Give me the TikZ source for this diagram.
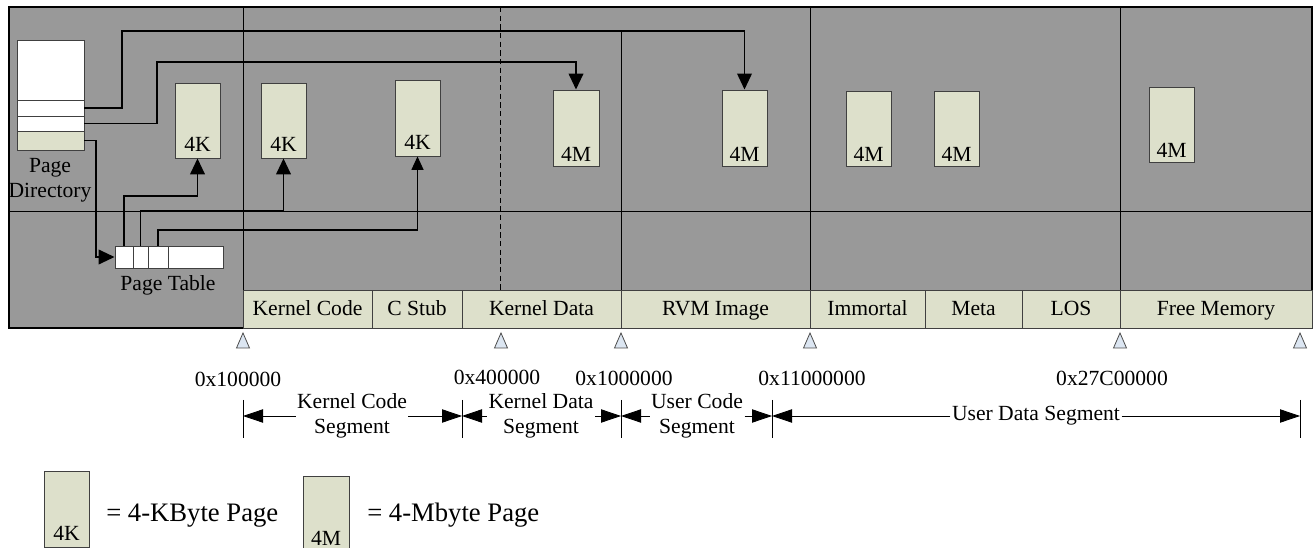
\documentclass[tikz,border=0pt]{standalone}
\usepackage{fontspec}
\setmainfont{Liberation Serif}
\usetikzlibrary{arrows.meta,fit}
\definecolor{bggray}{RGB}{153,153,153}
\definecolor{pagefill}{RGB}{221,224,203}
\definecolor{mkfill}{RGB}{220,230,242}
\definecolor{boxline}{RGB}{64,64,64}
\newcommand\lblfont{\fontsize{16.2}{18.75}\selectfont}
\newcommand\legfont{\fontsize{20}{24}\selectfont}
\begin{document}
\begin{tikzpicture}[x=0.75pt,y=-0.75pt,
  every node/.style={font=\lblfont},
  region/.style={fill=bggray,draw=black,line width=0.8pt},
  gridline/.style={draw=black,line width=0.7pt},
  seg/.style={draw=boxline,fill=pagefill,line width=0.7pt,inner sep=0pt,
    label={[text height=13pt,text depth=2.5pt]center:#1}},
  pagebox/.style={draw=boxline,fill=pagefill,line width=0.7pt,inner sep=0pt},
  kpage/.style={pagebox,label={[anchor=south,inner sep=5pt]south:4K}},
  mpage/.style={pagebox,label={[anchor=south,inner sep=3.5pt]south:4M}},
  pdcell/.style={draw=boxline,fill=white,line width=0.7pt,inner sep=0pt},
  conn/.style={draw=black,line width=1.4pt,-{Triangle[length=12pt,width=11pt]}},
  thinconn/.style={draw=black,line width=0.8pt,-{Triangle[length=10pt,width=9pt]}},
  dim/.style={draw=black,line width=0.6pt,-{Triangle[length=15pt,width=10pt]}},
  tickline/.style={draw=black,line width=0.6pt},
  marker/.style={draw=black!70,fill=mkfill,line width=0.6pt},
]
\useasboundingbox (0,0) rectangle (1316,548);

% background regions
\draw[region] (9,7) rectangle (1312,328);
\draw[gridline] (9,211) -- (1312,211);
\draw[gridline] (243,7) -- (243,328);
\draw[gridline] (810,7) -- (810,328);
\draw[gridline] (1120,7) -- (1120,328);
\draw[gridline] (621,31) -- (621,290);
\draw[gridline,dash pattern=on 4pt off 2.5pt] (500,7) -- (500,290);

% bottom bar
\node[seg=Kernel Code,fit={(243,290)(372,328)}] (kc) {};
\node[seg=C Stub,fit={(372,290)(462,328)}] (cs) {};
\node[seg=Kernel Data,fit={(462,290)(621,328)}] (kd) {};
\node[seg=RVM Image,fit={(621,290)(810,328)}] (rvm) {};
\node[seg=Immortal,fit={(810,290)(925,328)}] (imm) {};
\node[seg=Meta,fit={(925,290)(1022,328)}] (meta) {};
\node[seg=LOS,fit={(1022,290)(1120,328)}] (los) {};
\node[seg=Free Memory,fit={(1120,290)(1312,328)}] (free) {};

% page directory
\node[pdcell,fit={(17,40)(84,100)}] (pd0) {};
\node[pdcell,fit={(17,100)(84,116)}] (pd1) {};
\node[pdcell,fit={(17,116)(84,131)}] (pd2) {};
\node[pagebox,fit={(17,131)(84,150)}] (pd3) {};
\node[align=center,inner sep=0pt] (pdlabel) at (50,180) {Page\\Directory};

% page table
\node[pdcell,fit={(115,246)(133,268)}] (pt1) {};
\node[pdcell,fit={(133,246)(148,268)}] (pt2) {};
\node[pdcell,fit={(148,246)(168,268)}] (pt3) {};
\node[pdcell,fit={(168,246)(223,268)}] (pt4) {};
\node[inner sep=0pt] (ptlabel) at (168,285) {Page Table};

% pages
\node[kpage,fit={(175,83)(220,158)}] (A) {};
\node[kpage,fit={(261,83)(306,158)}] (B) {};
\node[kpage,fit={(395,80)(440,156)}] (C) {};
\node[mpage,fit={(553,90)(599,166)}] (D) {};
\node[mpage,fit={(722,90)(767,166)}] (E) {};
\node[mpage,fit={(846,91)(891,166)}] (F) {};
\node[mpage,fit={(934,91)(979,166)}] (G) {};
\node[mpage,fit={(1149,87)(1194,162)}] (H) {};

% connectors
\coordinate (k1) at (122,31);
\coordinate (k2) at (157,62);
\coordinate (k3) at (96,257);
\coordinate (k4) at (0,196);
\coordinate (k5) at (0,211);
\coordinate (k6) at (0,230);
\draw[conn,line width=1.2pt] (pd1.east) -| (k1) -| (E.north);
\draw[conn] (pd2.east) -| (k2) -| (D.north);
\draw[conn] (pd3.east) -| (k3) -- (pt1.west);
\draw[conn] (pt1.north) |- (A.south |- k4) -- (A.south);
\draw[conn] (pt2.north) |- (B.south |- k5) -- (B.south);
\draw[thinconn] (pt3.north) |- (C.south |- k6) -- (C.south);

% address markers
\foreach \x in {243,501,621,810,1120,1300}
  \draw[marker] (\x-6.5,348) -- (\x,333) -- (\x+6.5,348) -- cycle;
\node (a1) at (238,379) {0x100000};
\node (a2) at (497,377) {0x400000};
\node (a3) at (624,378) {0x1000000};
\node (a4) at (812,378) {0x11000000};
\node (a5) at (1112,378) {0x27C00000};

% segment dimensions
\foreach \x in {243,462,621,772,1300}
  \draw[tickline] (\x,400) -- (\x,438);
\coordinate (t1) at (243,416);
\coordinate (t2) at (462,416);
\coordinate (t3) at (621,416);
\coordinate (t4) at (772,416);
\coordinate (t5) at (1300,416);
\node[align=center,inner sep=1pt] (kcs) at (352,416) {Kernel Code\\Segment};
\node[align=center,inner sep=1pt] (kds) at (541,416) {Kernel Data\\Segment};
\node[align=center,inner sep=1pt] (ucs) at (697,416) {User Code\\Segment};
\node[inner sep=1pt] (uds) at (1036,416) {User Data Segment};
\draw[dim] (kcs.west) -- (t1);
\draw[dim] (kcs.east) -- (t2);
\draw[dim] (kds.west) -- (t2);
\draw[dim] (kds.east) -- (t3);
\draw[dim] (ucs.west) -- (t3);
\draw[dim] (ucs.east) -- (t4);
\draw[dim] (uds.west) -- (t4);
\draw[dim] (uds.east) -- (t5);

% legend
\node[kpage,fit={(44,471)(89,547)}] (LK) {};
\node[anchor=base west,inner sep=0pt,font=\legfont] (LKt) at (106,521) {= 4-KByte Page};
\node[pagebox,fit={(303,476)(349,556)},label={[anchor=south,inner sep=8pt]south:4M}] (LM) {};
\node[anchor=base west,inner sep=0pt,font=\legfont] (LMt) at (367,521) {= 4-Mbyte Page};
\end{tikzpicture}
\end{document}
